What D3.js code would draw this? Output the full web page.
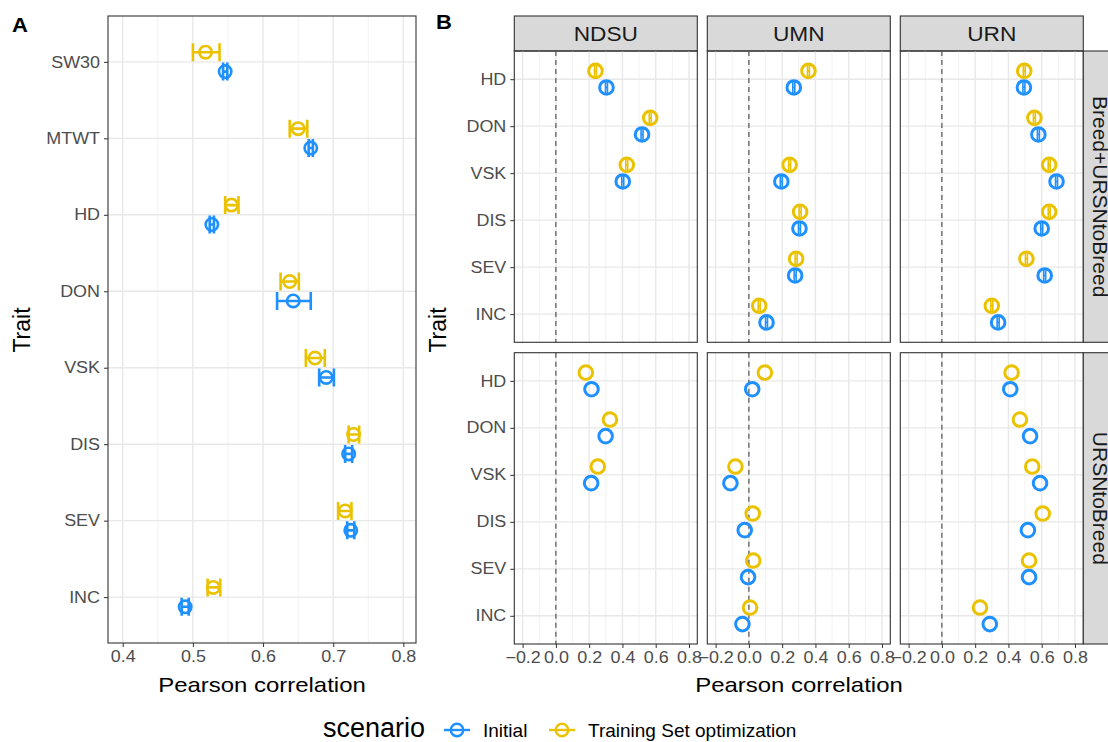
<!DOCTYPE html>
<html>
<head>
<meta charset="utf-8">
<script src="https://cdn.jsdelivr.net/npm/d3@7"></script>
<style>
  body { margin: 0; background: #fff; }
  svg text { font-family: "Liberation Sans", Arial, sans-serif; }
</style>
</head>
<body>
<svg id="chart" width="1108" height="742"></svg>
<script>
// ---- data ----
var traitsA = ["SW30", "MTWT", "HD", "DON", "VSK", "DIS", "SEV", "INC"];
var initA   = [0.546, 0.668, 0.527, 0.643, 0.690, 0.722, 0.725, 0.489];
var initALo = [0.543, 0.665, 0.524, 0.620, 0.680, 0.717, 0.720, 0.484];
var initAHi = [0.549, 0.671, 0.530, 0.668, 0.701, 0.727, 0.730, 0.494];
var tsoA    = [0.518, 0.650, 0.555, 0.638, 0.674, 0.729, 0.717, 0.529];
var tsoALo  = [0.500, 0.638, 0.546, 0.625, 0.661, 0.722, 0.707, 0.521];
var tsoAHi  = [0.538, 0.663, 0.565, 0.651, 0.688, 0.737, 0.726, 0.539];
var ticksA  = [0.4, 0.5, 0.6, 0.7, 0.8];

var traitsB = ["HD", "DON", "VSK", "DIS", "SEV", "INC"];
var sites   = ["NDSU", "UMN", "URN"];
var rowsB   = ["Breed+URSNtoBreed", "URSNtoBreed"];
var ticksB  = [-0.2, 0.0, 0.2, 0.4, 0.6, 0.8];

// Breed+URSNtoBreed
var initBreedNDSU = [0.304, 0.518, 0.402, null, null, null];
var tsoBreedNDSU  = [0.238, 0.567, 0.426, null, null, null];
var initBreedUMN  = [0.270, null, 0.195, 0.304, 0.278, 0.106];
var tsoBreedUMN   = [0.358, null, 0.245, 0.308, 0.284, 0.062];
var initBreedURN  = [0.493, 0.580, 0.689, 0.600, 0.618, 0.338];
var tsoBreedURN   = [0.495, 0.556, 0.645, 0.645, 0.508, 0.300];
var errBreed      = [0.006, 0.006, 0.006, 0.006, 0.006, 0.006];
// URSNtoBreed
var initUrsnNDSU = [0.214, 0.299, 0.212, null, null, null];
var tsoUrsnNDSU  = [0.180, 0.325, 0.252, null, null, null];
var initUrsnUMN  = [0.020, null, -0.111, -0.025, -0.005, -0.039];
var tsoUrsnUMN   = [0.096, null, -0.081, 0.023, 0.026, 0.007];
var initUrsnURN  = [0.411, 0.530, 0.590, 0.517, 0.524, 0.288];
var tsoUrsnURN   = [0.419, 0.469, 0.543, 0.606, 0.524, 0.229];

var scenarios = ["Initial", "Training Set optimization"];
var colors = ["#1E90FF", "#EBC200"];

// ---- helpers ----
var svg = d3.select("#chart");

function stretch(sel, k) {
  sel.each(function() {
    var l = this.getComputedTextLength();
    d3.select(this).attr("textLength", l * k).attr("lengthAdjust", "spacingAndGlyphs");
  });
}

function grid(g, x, y, majors, minors, top, bottom, left, right) {
  g.selectAll(".minor").data(minors).enter().append("line")
    .attr("x1", function(d) { return x(d); }).attr("x2", function(d) { return x(d); })
    .attr("y1", top).attr("y2", bottom)
    .attr("stroke", "#f0f0f0").attr("stroke-width", 0.9);
  g.selectAll(".major").data(majors).enter().append("line")
    .attr("x1", function(d) { return x(d); }).attr("x2", function(d) { return x(d); })
    .attr("y1", top).attr("y2", bottom)
    .attr("stroke", "#e8e8e8").attr("stroke-width", 1.4);
  g.selectAll(".hmajor").data(y.domain()).enter().append("line")
    .attr("x1", left).attr("x2", right)
    .attr("y1", function(d) { return y(d); }).attr("y2", function(d) { return y(d); })
    .attr("stroke", "#e8e8e8").attr("stroke-width", 1.4);
}

function styleAxis(g, size) {
  g.select(".domain").remove();
  g.selectAll(".tick line").attr("stroke", "#333").attr("stroke-width", 1);
  g.selectAll(".tick text").attr("fill", "#4d4d4d").style("font-size", size + "px");
}

// ======================= Panel A =======================
var aL = 108, aR = 416, aT = 16, aB = 643;
var xA = d3.scaleLinear().domain([0.379, 0.818]).range([aL, aR]);
var yA = d3.scalePoint().domain(traitsA).range([aT, aB]).padding(0.6);
var dodgeA = 9.7;

var gA = svg.append("g");
grid(gA, xA, yA, ticksA, [0.45, 0.55, 0.65, 0.75], aT, aB, aL, aR);

var seriesA = [
  { v: initA, lo: initALo, hi: initAHi, c: colors[0], off: dodgeA },
  { v: tsoA, lo: tsoALo, hi: tsoAHi, c: colors[1], off: -dodgeA }
];
seriesA.forEach(function(s) {
  var pts = traitsA.map(function(t, i) { return { t: t, v: s.v[i], lo: s.lo[i], hi: s.hi[i] }; });
  var g = gA.append("g").attr("stroke", s.c).attr("fill", "none").attr("stroke-width", 2.6);
  g.selectAll(".eb").data(pts).enter().append("path")
    .attr("d", function(d) {
      var yy = yA(d.t) + s.off, x0 = xA(d.lo), x1 = xA(d.hi);
      return "M" + x0 + "," + (yy - 9) + "V" + (yy + 9) +
             "M" + x0 + "," + yy + "H" + x1 +
             "M" + x1 + "," + (yy - 9) + "V" + (yy + 9);
    });
  g.selectAll("circle").data(pts).enter().append("circle")
    .attr("cx", function(d) { return xA(d.v); })
    .attr("cy", function(d) { return yA(d.t) + s.off; })
    .attr("r", 6.2);
});

gA.append("rect").attr("x", aL).attr("y", aT).attr("width", aR - aL).attr("height", aB - aT)
  .attr("fill", "none").attr("stroke", "#333").attr("stroke-width", 1.1);

var axA = gA.append("g").attr("transform", "translate(0," + aB + ")")
  .call(d3.axisBottom(xA).tickValues(ticksA).tickFormat(d3.format(".1f")).tickSize(4).tickPadding(4));
styleAxis(axA, 16);
var ayA = gA.append("g").attr("transform", "translate(" + aL + ",0)")
  .call(d3.axisLeft(yA).tickSize(4).tickPadding(4));
styleAxis(ayA, 16);
stretch(axA.selectAll(".tick text"), 1.12);
stretch(ayA.selectAll(".tick text"), 1.12);

stretch(svg.append("text").attr("x", 262).attr("y", 692).attr("text-anchor", "middle")
  .style("font-size", "21px").attr("fill", "#000").text("Pearson correlation"), 1.14);
svg.append("text").attr("transform", "translate(30,330) rotate(-90)").attr("text-anchor", "middle")
  .style("font-size", "23px").attr("fill", "#000").text("Trait");
stretch(svg.append("text").attr("x", 12).attr("y", 32).style("font-size", "20px")
  .style("font-weight", "bold").text("A"), 1.1);

// ======================= Panel B =======================
var colX = [514.3, 707.3, 900.3], panelW = 183;
var rowY = [[51, 342.3], [352.7, 644]];
var stripT = 16;
var dodgeB = 8.3;

var dataB = [
  [[initBreedNDSU, tsoBreedNDSU], [initBreedUMN, tsoBreedUMN], [initBreedURN, tsoBreedURN]],
  [[initUrsnNDSU, tsoUrsnNDSU], [initUrsnUMN, tsoUrsnUMN], [initUrsnURN, tsoUrsnURN]]
];

var gB = svg.append("g");

sites.forEach(function(site, c) {
  var x = d3.scaleLinear().domain([-0.25, 0.85]).range([colX[c], colX[c] + panelW]);

  // top strip
  gB.append("rect").attr("x", colX[c]).attr("y", stripT).attr("width", panelW).attr("height", rowY[0][0] - stripT)
    .attr("fill", "#d9d9d9").attr("stroke", "#333").attr("stroke-width", 1.1);
  stretch(gB.append("text").attr("x", colX[c] + panelW / 2).attr("y", (stripT + rowY[0][0]) / 2)
    .attr("text-anchor", "middle").attr("dominant-baseline", "central")
    .style("font-size", "21px").attr("fill", "#1a1a1a").text(site), 1.08);

  rowsB.forEach(function(row, r) {
    var top = rowY[r][0], bottom = rowY[r][1];
    var y = d3.scalePoint().domain(traitsB).range([top, bottom]).padding(0.6);
    var g = gB.append("g");
    grid(g, x, y, ticksB, [-0.1, 0.1, 0.3, 0.5, 0.7], top, bottom, colX[c], colX[c] + panelW);

    g.append("line").attr("x1", x(0)).attr("x2", x(0)).attr("y1", top).attr("y2", bottom)
      .attr("stroke", "#444").attr("stroke-width", 1.1).attr("stroke-dasharray", "5,4");

    dataB[r][c].forEach(function(vals, s) {
      var off = s === 0 ? dodgeB : -dodgeB;
      var pts = traitsB.map(function(t, i) { return { t: t, v: vals[i], e: errBreed[i] }; })
        .filter(function(d) { return d.v !== null; });
      var gs = g.append("g").attr("stroke", colors[s]).attr("fill", "none").attr("stroke-width", 3);
      if (r === 0) {
        gs.selectAll(".eb").data(pts).enter().append("path").attr("stroke-width", 1.6)
          .attr("d", function(d) {
            var yy = y(d.t) + off, x0 = x(d.v - d.e), x1 = x(d.v + d.e);
            return "M" + x0 + "," + (yy - 6) + "V" + (yy + 6) +
                   "M" + x0 + "," + yy + "H" + x1 +
                   "M" + x1 + "," + (yy - 6) + "V" + (yy + 6);
          });
      }
      gs.selectAll("circle").data(pts).enter().append("circle")
        .attr("cx", function(d) { return x(d.v); })
        .attr("cy", function(d) { return y(d.t) + off; })
        .attr("r", 6.8);
    });

    g.append("rect").attr("x", colX[c]).attr("y", top).attr("width", panelW).attr("height", bottom - top)
      .attr("fill", "none").attr("stroke", "#333").attr("stroke-width", 1.1);

    if (c === 0) {
      var ay = g.append("g").attr("transform", "translate(" + colX[c] + ",0)")
        .call(d3.axisLeft(y).tickSize(4).tickPadding(4));
      styleAxis(ay, 16);
      stretch(ay.selectAll(".tick text"), 1.12);
    }
    if (r === 1) {
      var ax = g.append("g").attr("transform", "translate(0," + bottom + ")")
        .call(d3.axisBottom(x).tickValues(ticksB).tickFormat(d3.format(".1f")).tickSize(4).tickPadding(4));
      styleAxis(ax, 16);
      stretch(ax.selectAll(".tick text"), 1.12);
    }
    if (c === sites.length - 1) {
      var sx = colX[c] + panelW;
      gB.append("rect").attr("x", sx).attr("y", top).attr("width", 36).attr("height", bottom - top)
        .attr("fill", "#d9d9d9").attr("stroke", "#333").attr("stroke-width", 1.1);
      gB.append("text").attr("transform", "translate(" + (sx + 17) + "," + ((top + bottom) / 2) + ") rotate(90)")
        .attr("text-anchor", "middle").attr("dominant-baseline", "central")
        .style("font-size", "21px").attr("fill", "#1a1a1a").text(row);
    }
  });
});

stretch(svg.append("text").attr("x", 799).attr("y", 692).attr("text-anchor", "middle")
  .style("font-size", "21px").attr("fill", "#000").text("Pearson correlation"), 1.14);
svg.append("text").attr("transform", "translate(446,330) rotate(-90)").attr("text-anchor", "middle")
  .style("font-size", "23px").attr("fill", "#000").text("Trait");
stretch(svg.append("text").attr("x", 436).attr("y", 29).style("font-size", "20px")
  .style("font-weight", "bold").text("B"), 1.1);

// ======================= Legend =======================
var leg = svg.append("g");
leg.append("text").attr("x", 323).attr("y", 737).style("font-size", "27px").attr("fill", "#000").text("scenario");
var keyX = [457, 562], labX = [483, 588];
scenarios.forEach(function(s, i) {
  leg.append("line").attr("x1", keyX[i] - 13).attr("x2", keyX[i] + 13).attr("y1", 730).attr("y2", 730)
    .attr("stroke", colors[i]).attr("stroke-width", 2.4);
  leg.append("circle").attr("cx", keyX[i]).attr("cy", 730).attr("r", 6.2)
    .attr("fill", "none").attr("stroke", colors[i]).attr("stroke-width", 2.4);
  leg.append("text").attr("x", labX[i]).attr("y", 737).style("font-size", "19px").attr("fill", "#000").text(s);
});
</script>
</body>
</html>
